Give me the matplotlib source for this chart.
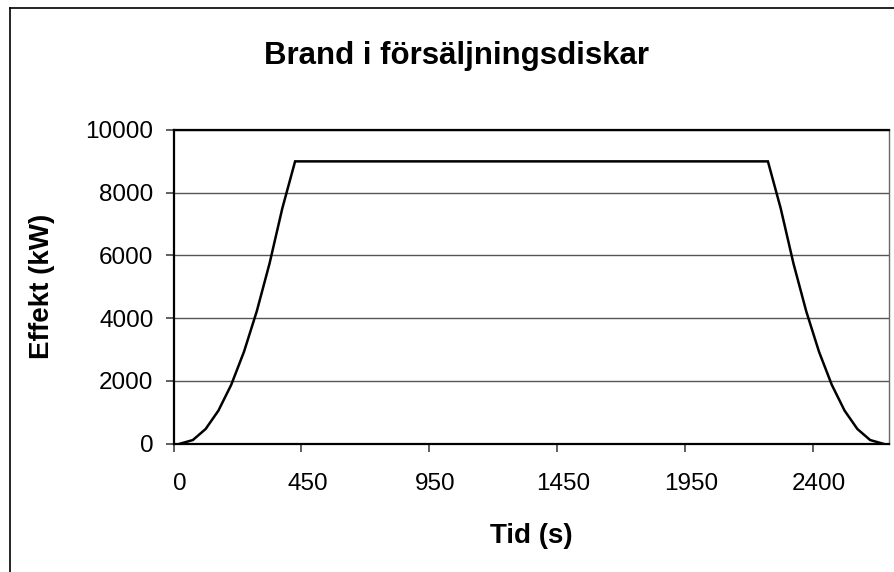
import numpy as np
import matplotlib
matplotlib.use("Agg")
import matplotlib.pyplot as plt
from matplotlib.lines import Line2D

plt.rcParams['font.family'] = ['Liberation Sans', 'DejaVu Sans']

# Heat release curve for a fire in sales counters (time in s, effect in kW)
times = [0, 50, 100, 150, 200, 250, 300, 350, 400, 438,
         450, 500, 550, 600, 650, 700, 750, 800, 850, 900,
         950, 1000, 1050, 1100, 1150, 1200, 1250, 1300, 1350, 1400,
         1450, 1500, 1550, 1600, 1650, 1700, 1750, 1800, 1850, 1900,
         1950, 2000, 2050, 2100, 2150, 2200, 2212, 2250, 2300, 2350,
         2400, 2450, 2500, 2550, 2600, 2650]

growth = [0, 117, 469, 1055, 1876, 2931, 4221, 5745, 7504]
plateau = [9000] * 38
decay = [7504, 5745, 4221, 2931, 1876, 1055, 469, 117, 0]
effect = growth + plateau + decay

title = "Brand i försäljningsdiskar"
xlabel = "Tid (s)"
ylabel = "Effekt (kW)"
yticks = [0, 2000, 4000, 6000, 8000, 10000]
label_step = 10

W, H, DPI = 895, 572, 100
fig = plt.figure(figsize=(W / DPI, H / DPI), dpi=DPI)
fig.patch.set_facecolor('white')

left, right, top, bottom = 173.7, 889.3, 130.0, 443.7
ax = fig.add_axes([left / W, 1 - bottom / H, (right - left) / W, (bottom - top) / H])

n = len(times)
pos = np.arange(n)
ax.plot(pos, effect, color='black', lw=1.8, solid_joinstyle='miter', zorder=3)

ax.set_xlim(-0.5, n - 0.5)
ax.set_ylim(yticks[0], yticks[-1])

# category axis: tick marks between categories, labels centred on categories
label_idx = list(range(0, n, label_step))
ax.set_xticks([i - 0.5 for i in label_idx])
ax.set_xticklabels([])
ax.set_xticks(label_idx, minor=True)
ax.set_xticklabels([str(times[i]) for i in label_idx], minor=True, fontsize=17.5)
ax.tick_params(axis='x', which='minor', length=0, pad=21)
ax.tick_params(axis='x', which='major', length=6, width=1.2, color='#444444', direction='out')

ax.set_yticks(yticks)
ax.set_yticklabels([str(v) for v in yticks], fontsize=17.5)
ax.tick_params(axis='y', length=6, width=1.2, color='#444444', direction='out', pad=8.5)

ax.grid(axis='y', color='#555555', lw=1.0, zorder=1)
ax.set_axisbelow(True)

for side in ['left', 'bottom', 'top']:
    ax.spines[side].set_color('black')
    ax.spines[side].set_linewidth(1.6)
ax.spines['right'].set_color('#666666')
ax.spines['right'].set_linewidth(1.0)

ax.set_xlabel(xlabel, fontsize=20, fontweight='bold', labelpad=20)
ax.set_ylabel(ylabel, fontsize=20, fontweight='bold', labelpad=22)

fig.text(457 / W, 1 - 56 / H, title, fontsize=22.5, fontweight='bold',
         ha='center', va='center')

# chart frame (left and top edges)
fig.add_artist(Line2D([10 / W, 10 / W], [0, 1 - 8 / H], transform=fig.transFigure,
                      color='black', lw=1.2))
fig.add_artist(Line2D([10 / W, 1], [1 - 8 / H, 1 - 8 / H], transform=fig.transFigure,
                      color='black', lw=1.2))

fig.savefig('out.png', dpi=DPI, facecolor='white')
